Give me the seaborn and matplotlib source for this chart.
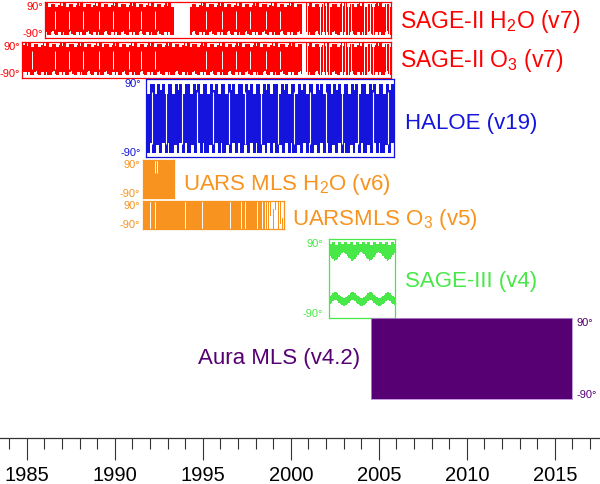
import numpy as np
import matplotlib.pyplot as plt
import seaborn as sns

sns.set_theme(style="white")
plt.rcParams["font.family"] = ["Liberation Sans", "DejaVu Sans"]
plt.rcParams["mathtext.default"] = "regular"

W, H = 600, 484
year_lo, year_hi = 1983.48, 2017.57

# instrument records
labels = [r"SAGE-II H$_2$O (v7)", r"SAGE-II O$_3$ (v7)", "HALOE (v19)",
          r"UARS MLS H$_2$O (v6)", r"UARSMLS O$_3$ (v5)", "SAGE-III (v4)",
          "Aura MLS (v4.2)"]
start_year = [1986.04, 1984.75, 1991.76, 1991.62, 1991.62, 2002.19, 2004.56]
end_year = [2005.68, 2005.68, 2005.87, 1993.37, 1999.62, 2005.92, 2016.0]
colors = ["#ff0000", "#ff0000", "#1414dc", "#f7931e", "#f7931e", "#47e847", "#560073"]

# SAGE-II monthly latitude envelope (Jan..Dec), data gaps, missing lines
sage2_north = [82, 82, 66, 62, 78, 80, 80, 64, 64, 76, 82, 70]
sage2_south = [-60, -74, -78, -78, -62, -58, -72, -76, -76, -60, -62, -74]
sage2_h2o_gaps = [(1993.30, 1994.27), (2000.62, 2000.87)]
sage2_o3_gaps = [(2000.62, 2000.87)]
sage2_sparse_from = 2000.87
sage2_white = [1985.3, 1986.6, 1987.4, 1988.2, 1989.1, 1989.9, 1990.8, 1991.5,
               1992.3, 1995.2, 1996.1, 1996.9, 1997.7, 1998.6, 1999.4]

# HALOE monthly envelope and missing lines
haloe_north = [80, 80, 80, 55, 55, 80, 80, 66, 80, 80, 56, 56]
haloe_south = [-58, -80, -80, -80, -62, -62, -80, -80, -56, -56, -80, -80]
haloe_white = [1992.1, 1992.9, 1993.8, 1994.7, 1995.6, 1996.5, 1997.4, 1998.3,
               1999.3, 2000.2, 2001.1, 2002.0, 2002.9, 2003.8, 2004.7, 2005.5]

# UARS MLS
uars_h2o_white = [1992.30, 1992.40]
uars_o3_white = [1992.0, 1992.3, 1994.0, 1994.94, 1996.55, 1997.2, 1997.4, 1998.07, 1998.35]
uars_o3_dense_end = 1998.55
uars_o3_sparse_x = [1998.62, 1998.72, 1998.86, 1999.0, 1999.12, 1999.3, 1999.42, 1999.52]
uars_o3_sparse_lo = [-90, -90, -10, -90, 30, -90, -60, -90]
uars_o3_sparse_hi = [90, 90, 90, 40, 90, 90, 90, -20]

# SAGE-III monthly bands (Jan..Dec)
sage3_n_top = [84, 84, 80, 80, 84, 84, 78, 78, 84, 84, 80, 80]
sage3_n_bot = [58, 56, 52, 48, 44, 40, 42, 46, 50, 54, 58, 60]
sage3_s_top = [-44, -42, -40, -36, -32, -30, -30, -32, -36, -40, -42, -44]
sage3_s_bot = [-62, -60, -58, -54, -50, -48, -48, -50, -54, -58, -60, -62]

# layout (pixel rows of each box, label anchor points)
box_top = [1.7, 41.7, 79.3, 160.0, 200.7, 239.3, 318.3]
box_bot = [37.7, 77.7, 157.3, 197.7, 229.0, 318.3, 399.3]
lab_x = [400, 400, 405, 183, 292, 405, 360]
lab_y = [20, 59, 121, 182, 217, 279, 356]
lab_size = [16.5, 16.5, 16, 16, 16, 16, 16]
lab_gap = [2, 2, 5, 3, 3, 6, 4]


def fx(year):
    return (year - year_lo) / (year_hi - year_lo)


def month_fill(ax, start, end, north, south, color, gaps=()):
    # continuous step fill between the monthly south and north limits
    edges = list(np.arange(start, end, 1 / 12)) + [end]
    seg_x, seg_n, seg_s = [], [], []

    def flush():
        if len(seg_x) > 1:
            ax.fill_between(seg_x, seg_s, seg_n, step="post", color=color,
                            linewidth=0)
        seg_x.clear(); seg_n.clear(); seg_s.clear()

    for ti in edges:
        if any(g0 <= ti < g1 for g0, g1 in gaps):
            if seg_x:
                seg_x.append(ti); seg_n.append(seg_n[-1]); seg_s.append(seg_s[-1])
            flush()
            continue
        m = int((ti % 1) * 12) % 12
        seg_x.append(ti); seg_n.append(north[m]); seg_s.append(south[m])
    flush()


def month_bars(ax, start, end, north, south, color, width):
    t = np.arange(start, end - 1e-6, 1 / 12)
    for ti in t:
        m = int((ti % 1) * 12) % 12
        ax.bar(ti, north[m] - south[m], bottom=south[m], width=min(width, end - ti),
               align="edge", color=color, linewidth=0)


fig = plt.figure(figsize=(W / 100, H / 100), dpi=100)

axes = []
for i in range(len(labels)):
    x0, x1 = fx(start_year[i]), fx(end_year[i])
    ax = fig.add_axes([x0, 1 - box_bot[i] / H, x1 - x0, (box_bot[i] - box_top[i]) / H])
    ax.set_xlim(start_year[i], end_year[i])
    ax.set_ylim(-90, 90)
    ax.set_xticks([])
    ax.set_yticks([])
    ax.set_facecolor("none")
    for sp in ax.spines.values():
        sp.set_visible(True)
        sp.set_color(colors[i])
        sp.set_linewidth(0.9)
    axes.append(ax)

# SAGE-II: dense until the 2000 gap, half duty cycle afterwards
month_fill(axes[0], start_year[0], sage2_sparse_from, sage2_north, sage2_south,
           colors[0], gaps=sage2_h2o_gaps)
month_fill(axes[1], start_year[1], sage2_sparse_from, sage2_north, sage2_south,
           colors[1], gaps=sage2_o3_gaps)
for a in axes[:2]:
    month_bars(a, sage2_sparse_from, end_year[0], sage2_north, sage2_south, colors[0],
               width=0.8 / 12)
    a.vlines([y for y in sage2_white if a.get_xlim()[0] < y], -45, 45, color="white", lw=0.7)

# HALOE
month_fill(axes[2], start_year[2], end_year[2], haloe_north, haloe_south, colors[2])
axes[2].vlines(haloe_white, -60, 60, color="white", lw=0.8)

# UARS MLS
axes[3].bar(start_year[3], 180, bottom=-90, width=end_year[3] - start_year[3],
            align="edge", color=colors[3], linewidth=0)
axes[3].vlines(uars_h2o_white, 30, 90, color="white", lw=0.7)
axes[4].bar(start_year[4], 180, bottom=-90, width=uars_o3_dense_end - start_year[4],
            align="edge", color=colors[4], linewidth=0)
axes[4].vlines(uars_o3_white, -90, 90, color="white", lw=0.7)
axes[4].bar(uars_o3_sparse_x, np.subtract(uars_o3_sparse_hi, uars_o3_sparse_lo),
            bottom=uars_o3_sparse_lo, width=0.05, color=colors[4], linewidth=0)

# SAGE-III: northern and southern occultation bands
month_fill(axes[5], start_year[5], end_year[5], sage3_n_top, sage3_n_bot, colors[5])
month_fill(axes[5], start_year[5], end_year[5], sage3_s_top, sage3_s_bot, colors[5])

# Aura MLS
axes[6].bar(start_year[6], 180, bottom=-90, width=end_year[6] - start_year[6],
            align="edge", color=colors[6], linewidth=0)
for sp in axes[6].spines.values():
    sp.set_color("#b88ad6")
    sp.set_linewidth(0.6)

# latitude labels and instrument names
for i, ax in enumerate(axes):
    if i == 6:
        xa, dx, ha = 1, 4, "left"
    else:
        xa, dx, ha = 0, -lab_gap[i], "right"
    ax.annotate("90°", (xa, 1), xycoords="axes fraction", xytext=(dx * 0.72, -5 * 0.72),
                textcoords="offset points", ha=ha, va="center", fontsize=8, color=colors[i])
    ax.annotate("-90°", (xa, 0), xycoords="axes fraction", xytext=(dx * 0.72, 4 * 0.72),
                textcoords="offset points", ha=ha, va="center", fontsize=8, color=colors[i])
    fig.text(lab_x[i] / W, 1 - (lab_y[i] + 8) / H, labels[i], color=colors[i],
             fontsize=lab_size[i], ha="right" if i == 6 else "left", va="baseline")

# time axis
axt = fig.add_axes([0, 1 - 438 / H, 1, 0.001])
axt.set_xlim(year_lo, year_hi)
axt.set_yticks([])
sns.despine(ax=axt, left=True, top=True, right=True)
axt.spines["bottom"].set_color("#333333")
axt.spines["bottom"].set_linewidth(0.9)
axt.set_xticks(np.arange(1985, 2016, 5))
axt.set_xticks(np.arange(1984, 2018, 1), minor=True)
axt.tick_params(axis="x", which="major", length=16, width=0.8, color="#333333",
                labelsize=14.5, pad=4, labelcolor="black", bottom=True)
axt.tick_params(axis="x", which="minor", length=8, width=0.8, color="#333333", bottom=True)
axt.set_facecolor("none")

fig.savefig("out.png", dpi=100)
